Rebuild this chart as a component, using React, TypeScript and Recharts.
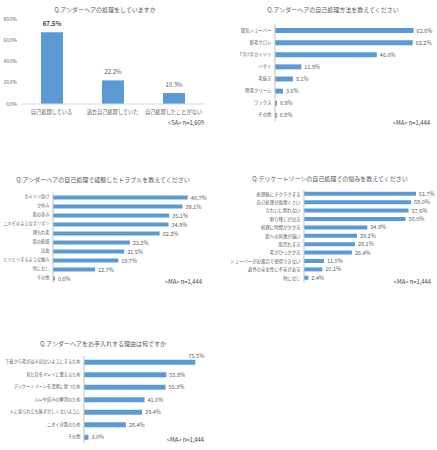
import { BarChart, Bar, XAxis, YAxis, LabelList } from 'recharts';

const FONT = '"Noto Sans CJK JP", "Noto Sans", sans-serif';
const BLUE = '#5B9BD5';
const TEXT = '#595959';
const AXIS = '#bfbfbf';

// Q1: 処理しているか (SA)
const q1Categories = ['自己処理している', '過去自己処理していた', '自己処理したことがない'];
const q1Values = [67.5, 22.2, 10.3];
const q1Ticks = [0, 20, 40, 60, 80];

// Q2: 自己処理方法 (MA)
const q2Categories = ['電気シェーバー', '脱毛サロン', 'T字/I字カミソリ', 'ハサミ', '毛抜き', '除毛クリーム', 'ワックス', 'その他'];
const q2Values = [62.6, 62.2, 46.0, 11.9, 8.1, 3.6, 0.9, 0.8];

// Q3: 経験したトラブル (MA)
const q3Categories = ['カミソリ負け', 'かゆみ', '肌の赤み', 'ニキビのようなポツポツ', '埋もれ毛', '肌の乾燥', '出血', 'ヒリヒリするような痛み', '特になし', 'その他'];
const q3Values = [40.7, 39.1, 35.1, 34.9, 32.2, 23.2, 21.5, 19.7, 12.7, 0.6];

// Q4: デリケートゾーンの自己処理での悩み (MA)
const q4Categories = ['処理後にチクチクする', '自己処理が面倒くさい', 'きれいに剃れない', '剃り残しが出る', '処理に時間がかかる', '肌への刺激が強い', '肌荒れする', '毛がひっかかる', 'シェーバーがお風呂で使用できない', '道具の安全性に不安がある', '特になし'];
const q4Values = [61.7, 59.0, 57.6, 56.0, 34.9, 29.2, 28.1, 26.4, 11.0, 10.1, 2.4];

// Q5: お手入れする理由 (MA)
const q5Categories = ['下着から毛がはみ出ないようにするため', '見た目をキレイに整えるため', 'デリケートゾーンを清潔に保つため', 'ムレや痒みの解消のため', '人に見られても恥ずかしくないように', 'ニオイ対策のため', 'その他'];
const q5Values = [75.5, 55.8, 55.3, 41.0, 39.4, 28.4, 3.0];

const pct = (v: number) => v.toFixed(1) + '%';

const toRows = (cats: string[], vals: number[]) => cats.map((name, i) => ({ name, value: vals[i] }));

const Title = ({ text, cx, cy }: { text: string; cx: number; cy: number }) => (
  <div style={{ position: 'absolute', left: cx - 150, top: cy - 4, width: 300, textAlign: 'center', fontSize: 6, lineHeight: '8px', color: TEXT, whiteSpace: 'nowrap' }}>
    {text}
  </div>
);

const Note = ({ text, right, cy }: { text: string; right: number; cy: number }) => (
  <div style={{ position: 'absolute', left: right - 100, top: cy - 4, width: 100, textAlign: 'right', fontSize: 5.8, lineHeight: '8px', color: '#404040', whiteSpace: 'nowrap' }}>
    {text}
  </div>
);

interface HBarProps {
  categories: string[];
  values: number[];
  left: number;
  top: number;
  width: number;
  height: number;
  axisWidth: number;
  max: number;
  mTop: number;
  mBottom: number;
  mRight: number;
  barSize: number;
  tickFont?: number;
  lift?: number; // values above this get their label on top of the bar end
}

const HBar = (p: HBarProps) => {
  const data = toRows(p.categories, p.values);
  const renderLabel = (props: any) => {
    const { x, y, width, height, value } = props;
    const v = Number(value);
    if (p.lift !== undefined && v > p.lift) {
      return (
        <text x={x + width + 1} y={y - 2} fontSize={5.5} fill={TEXT} textAnchor="middle">
          {pct(v)}
        </text>
      );
    }
    return (
      <text x={x + width + 3} y={y + height / 2} fontSize={5.5} fill={TEXT} dominantBaseline="central">
        {pct(v)}
      </text>
    );
  };
  return (
    <div style={{ position: 'absolute', left: p.left, top: p.top }}>
      <BarChart
        width={p.width}
        height={p.height}
        data={data}
        layout="vertical"
        margin={{ top: p.mTop, right: p.mRight, bottom: p.mBottom, left: 0 }}
      >
        <XAxis type="number" hide domain={[0, p.max]} />
        <YAxis
          type="category"
          dataKey="name"
          width={p.axisWidth}
          interval={0}
          tickLine={false}
          tickSize={2}
          tickMargin={1.5}
          axisLine={{ stroke: AXIS }}
          tick={{ fontSize: p.tickFont ?? 4.4, fill: TEXT }}
        />
        <Bar dataKey="value" fill={BLUE} barSize={p.barSize} isAnimationActive={false}>
          <LabelList dataKey="value" content={renderLabel} />
        </Bar>
      </BarChart>
    </div>
  );
};

const Q1Chart = () => {
  const data = toRows(q1Categories, q1Values);
  const renderLabel = (props: any) => {
    const { x, y, width, value, index } = props;
    return (
      <text
        x={x + width / 2}
        y={y - 6}
        fontSize={6}
        fontWeight={index === 0 ? 'bold' : 'normal'}
        fill={index === 0 ? '#404040' : TEXT}
        textAnchor="middle"
      >
        {pct(Number(value))}
      </text>
    );
  };
  return (
    <div style={{ position: 'absolute', left: 0, top: 0 }}>
      <BarChart width={215} height={125} data={data} margin={{ top: 19, right: 11, bottom: 0, left: 0 }}>
        <XAxis
          dataKey="name"
          height={21}
          interval={0}
          tickLine={false}
          tickSize={3}
          tickMargin={3}
          axisLine={{ stroke: '#d9d9d9' }}
          tick={{ fontSize: 5.2, fill: TEXT }}
        />
        <YAxis
          width={21}
          domain={[0, 80]}
          ticks={q1Ticks}
          tickFormatter={pct}
          axisLine={false}
          tickLine={false}
          tickSize={2}
          tickMargin={2}
          tick={{ fontSize: 4.7, fill: TEXT }}
        />
        <Bar dataKey="value" fill={BLUE} barSize={22} isAnimationActive={false}>
          <LabelList dataKey="value" content={renderLabel} />
        </Bar>
      </BarChart>
    </div>
  );
};

export default function App() {
  return (
    <div
      style={{
        position: 'absolute',
        left: 0,
        top: 0,
        width: 437,
        height: 450,
        background: '#fff',
        fontFamily: FONT,
        overflow: 'hidden',
      }}
    >
      <Title text="Q.アンダーヘアの処理をしていますか" cx={105} cy={10} />
      <Q1Chart />
      <Note text="<SA> n=1,609" right={204} cy={123} />

      <Title text="Q.アンダーヘアの自己処理方法を教えてください" cx={333} cy={10} />
      <HBar
        categories={q2Categories}
        values={q2Values}
        left={218}
        top={0}
        width={219}
        height={130}
        axisWidth={57}
        max={70}
        mTop={24}
        mBottom={9}
        mRight={7}
        barSize={5}
      />
      <Note text="<MA> n=1,444" right={430} cy={123} />

      <Title text="Q.アンダーヘアの自己処理で経験したトラブルを教えてください" cx={103} cy={180} />
      <HBar
        categories={q3Categories}
        values={q3Values}
        left={0}
        top={180}
        width={215}
        height={105}
        axisWidth={53}
        max={45}
        mTop={12.5}
        mBottom={2.5}
        mRight={13}
        barSize={4}
        tickFont={4.2}
      />
      <Note text="<MA> n=1,444" right={202} cy={282} />

      <Title text="Q.デリケートゾーンの自己処理での悩みを教えてください" cx={330} cy={179} />
      <HBar
        categories={q4Categories}
        values={q4Values}
        left={218}
        top={180}
        width={219}
        height={105}
        axisWidth={86}
        max={70}
        mTop={9.8}
        mBottom={2.8}
        mRight={6}
        barSize={4}
      />
      <Note text="<MA> n=1,444" right={431} cy={282} />

      <Title text="Q.アンダーヘアをお手入れする理由は何ですか" cx={103} cy={344} />
      <HBar
        categories={q5Categories}
        values={q5Values}
        left={0}
        top={340}
        width={215}
        height={110}
        axisWidth={84}
        max={80}
        mTop={15.75}
        mBottom={6.75}
        mRight={13}
        barSize={5}
        tickFont={4.2}
        lift={70}
      />
      <Note text="<MA> n=1,444" right={204} cy={440} />
    </div>
  );
}
